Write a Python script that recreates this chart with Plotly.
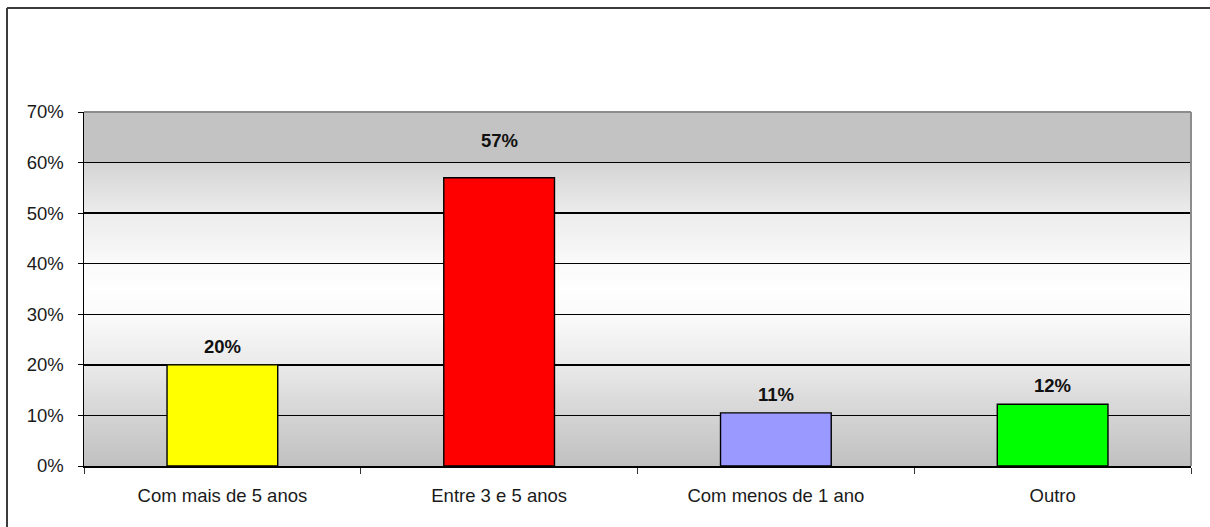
import plotly.graph_objects as go
import numpy as np

categories = ["Com mais de 5 anos", "Entre 3 e 5 anos", "Com menos de 1 ano", "Outro"]
values = [20, 57, 10.5, 12.2]
value_labels = ["20%", "57%", "11%", "12%"]
bar_colors = ["#FFFF00", "#FF0000", "#9999FF", "#00FF00"]
y_ticks = [0, 10, 20, 30, 40, 50, 60, 70]
y_tick_labels = ["0%", "10%", "20%", "30%", "40%", "50%", "60%", "70%"]

# label offsets above bars (pixels) - styling only
label_yshift = [6, 25, 6, 6]

W, H = 1210, 527
L, R, T, B = 84, 1191, 112, 466

def px_x(p):
    return (p - L) / (R - L)

def px_y(p):
    return (B - p) / (B - T)

fig = go.Figure()
fig.add_trace(go.Bar(
    x=categories, y=values,
    marker=dict(color=bar_colors, line=dict(color="#000000", width=1.4)),
    hoverinfo="skip", showlegend=False,
))

for c, v, t, s in zip(categories, values, value_labels, label_yshift):
    fig.add_annotation(x=c, y=v, text="<b>%s</b>" % t, showarrow=False,
                       yanchor="bottom", yshift=s,
                       font=dict(family="Liberation Sans, Arial", size=18.5, color="#111111"))

# background gradient (grey - white - grey), drawn as nested rects to avoid seams
gp = [(0, 192), (10, 212), (20, 234), (30, 251), (35, 254), (40, 250), (50, 236), (60, 212), (60.001, 195), (70, 195)]
gx = [p[0] for p in gp]
gv = [p[1] for p in gp]
shapes = []
n = 177
edges = np.linspace(0, 70, n + 1)
for k in range(n, 0, -1):
    mid = (edges[k - 1] + edges[k]) / 2
    g = int(round(np.interp(mid, gx, gv)))
    shapes.append(dict(type="rect", xref="x domain", yref="y", x0=0, x1=1, y0=0, y1=edges[k],
                       fillcolor="rgb(%d,%d,%d)" % (g, g, g), line=dict(width=0), layer="below"))
# plot area top/right border (grey)
shapes.append(dict(type="line", xref="x domain", yref="y domain", x0=0, x1=1, y0=1, y1=1,
                   line=dict(color="#8c8c8c", width=2), layer="above"))
shapes.append(dict(type="line", xref="x domain", yref="y domain", x0=1, x1=1, y0=0, y1=1,
                   line=dict(color="#8c8c8c", width=2), layer="above"))
# outer chart frame (clipped at right and bottom)
shapes.append(dict(type="line", xref="paper", yref="paper", x0=px_x(7), x1=px_x(1215), y0=px_y(8), y1=px_y(8),
                   line=dict(color="#3c3c3c", width=2)))
shapes.append(dict(type="line", xref="paper", yref="paper", x0=px_x(7), x1=px_x(7), y0=px_y(8), y1=px_y(530),
                   line=dict(color="#3c3c3c", width=2)))

fig.update_layout(
    width=W, height=H,
    margin=dict(l=L, r=W - R, t=T, b=H - B, pad=0),
    paper_bgcolor="#ffffff", plot_bgcolor="#c3c3c3",
    shapes=shapes,
    bargap=0.6,
    font=dict(family="Liberation Sans, Arial", size=18.5, color="#1a1a1a"),
    xaxis=dict(showgrid=False, showline=True, linecolor="#000000", linewidth=1.5,
               ticks="outside", tickson="boundaries", ticklen=6, tickcolor="#333333",
               ticklabelstandoff=12, tickfont=dict(size=18.5), fixedrange=True),
    yaxis=dict(range=[0, 70], tickvals=y_ticks, ticktext=y_tick_labels,
               showgrid=True, gridcolor="#000000", gridwidth=1.4,
               showline=True, linecolor="#000000", linewidth=1.5,
               ticks="outside", ticklen=5, tickcolor="#000000",
               ticklabelstandoff=10, tickfont=dict(size=18.5), zeroline=False, fixedrange=True),
)

fig.write_html("out.html", config={"displayModeBar": False, "staticPlot": True},
               post_script="document.body.style.margin='0px';document.body.style.overflow='hidden';")
